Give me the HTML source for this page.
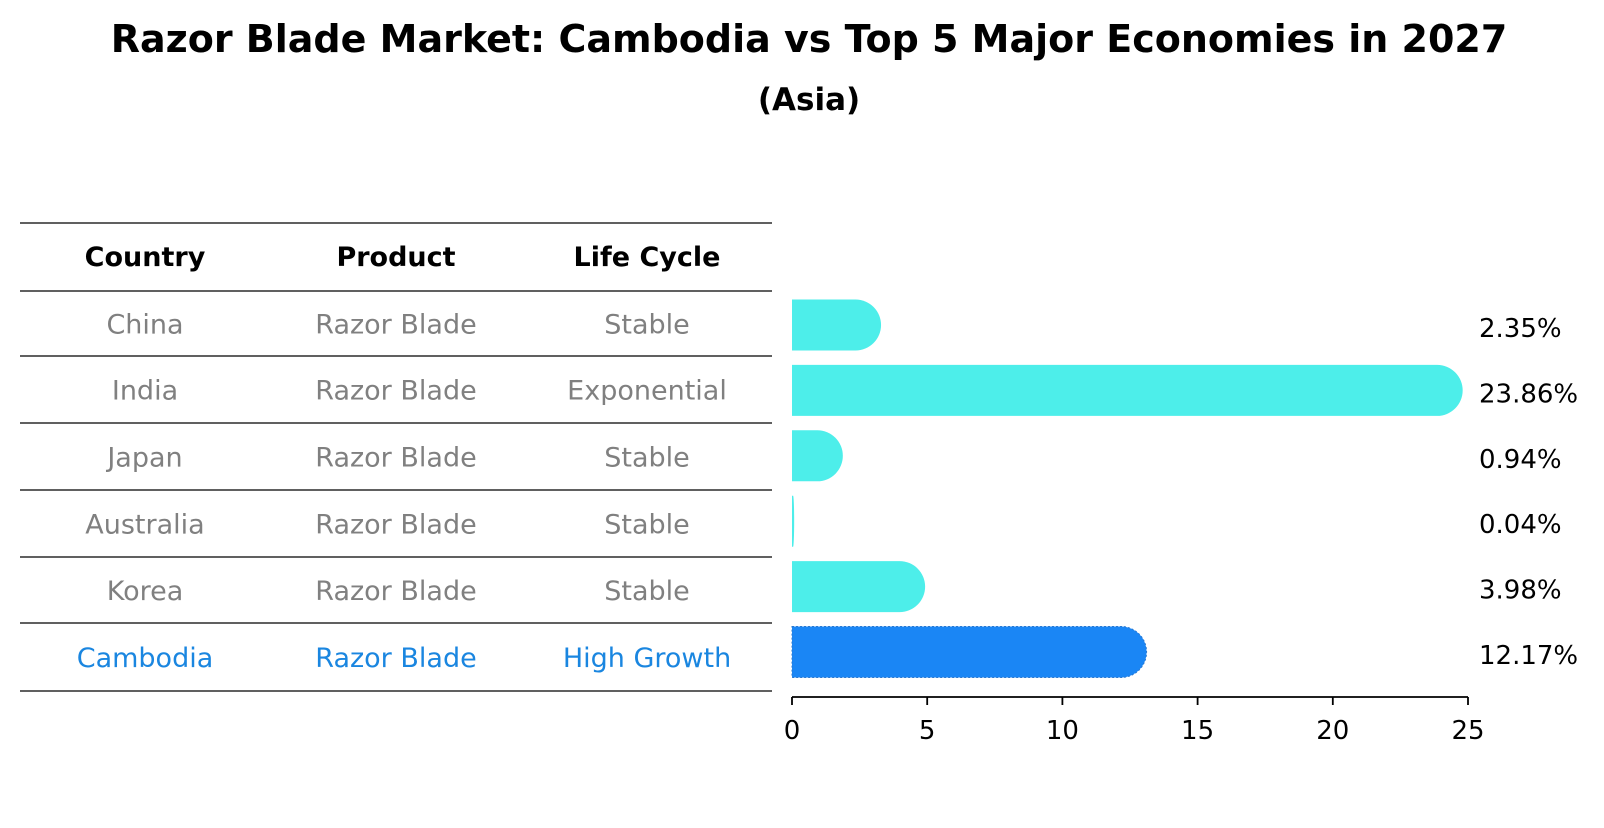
<!DOCTYPE html>
<html><head><meta charset="utf-8"><style>
body{margin:0;background:#fff;}
svg text{font-family:"DejaVu Sans","Liberation Sans",sans-serif;}
</style></head><body>
<svg width="1604" height="823" viewBox="0 0 1604 823" xmlns="http://www.w3.org/2000/svg">
<text x="809" y="52" text-anchor="middle" font-size="38" font-weight="bold">Razor Blade Market: Cambodia vs Top 5 Major Economies in 2027</text>
<text x="809" y="110" text-anchor="middle" font-size="31" font-weight="bold">(Asia)</text>
<g id="table"></g>
<g id="bars"></g>
<g id="axis"></g>
</svg>
<script>
const countries=["China","India","Japan","Australia","Korea","Cambodia"];
const products=["Razor Blade","Razor Blade","Razor Blade","Razor Blade","Razor Blade","Razor Blade"];
const cycles=["Stable","Exponential","Stable","Stable","Stable","High Growth"];
const values=[2.35,23.86,0.94,0.04,3.98,12.17];
const ticks=[0,5,10,15,20,25];
const NS="http://www.w3.org/2000/svg";
const X0=792,X1=1468,XMAX=25;
const xs=v=>X0+(X1-X0)*v/XMAX;
const rowY=i=>325+i*65.4;
const bh=51;
function mk(tag,attrs,parent){const e=document.createElementNS(NS,tag);for(const k in attrs)e.setAttribute(k,attrs[k]);parent.appendChild(e);return e;}
const tbl=document.getElementById('table');
const lines=[223,291,356,423,490,557,623,691];
lines.forEach(y=>{const l=mk('line',{x1:20,x2:772,y1:y,y2:y,stroke:'#000','stroke-width':1.3},tbl);

});
const colX=[145,396,647];
["Country","Product","Life Cycle"].forEach((h,j)=>{const t=mk('text',{x:colX[j],y:266,'text-anchor':'middle','font-size':27,'font-weight':'bold'},tbl);t.textContent=h;

});
countries.forEach((c,i)=>{const col=c==="Cambodia"?"#1a86e0":"#808080";const y=(lines[i+1]+lines[i+2])/2+10;
[c,products[i],cycles[i]].forEach((s,j)=>{const t=mk('text',{x:colX[j],y:y,'text-anchor':'middle','font-size':27,fill:col},tbl);t.textContent=s;

});});
const bars=document.getElementById('bars');
values.forEach((v,i)=>{const cy=rowY(i);const xe=xs(v);const w=xe-X0;const r=Math.min(bh/2,w);
const col=countries[i]==="Cambodia"?"#1a86f5":"#4deeea";
const d=`M${X0},${cy-bh/2} L${xe},${cy-bh/2} A${r},${bh/2} 0 0 1 ${xe},${cy+bh/2} L${X0},${cy+bh/2} Z`;
const p=mk('path',{d:d,fill:col},bars);
if(countries[i]==="Cambodia"){p.setAttribute('stroke','#2a78d0');p.setAttribute('stroke-dasharray','2 2');p.setAttribute('stroke-width','1');}


const t=mk('text',{x:1479,y:cy+12,'font-size':26,fill:'#000'},bars);t.textContent=v.toFixed(2)+'%';

});
const ax=document.getElementById('axis');
const al=mk('line',{x1:X0,x2:X1,y1:697,y2:697,stroke:'#000','stroke-width':1.8},ax);


ticks.forEach(tv=>{const x=xs(tv);const l=mk('line',{x1:x,x2:x,y1:697,y2:705,stroke:'#000','stroke-width':1.8},ax);


const t=mk('text',{x:x,y:739,'text-anchor':'middle','font-size':26},ax);t.textContent=tv;

});
</script>
</body></html>
